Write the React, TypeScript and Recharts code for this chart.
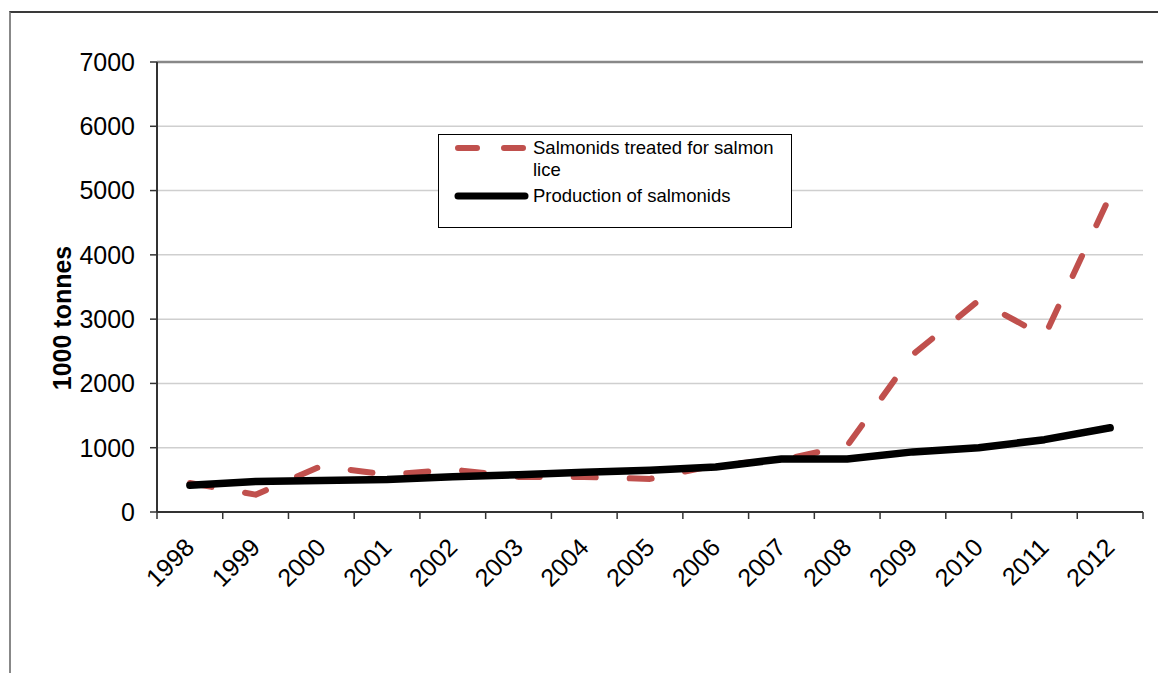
import React from 'react';
import { LineChart, Line, XAxis, YAxis, CartesianGrid, Legend, ReferenceLine } from 'recharts';

const years = ['1998', '1999', '2000', '2001', '2002', '2003', '2004', '2005', '2006', '2007', '2008', '2009', '2010', '2011', '2012'];
const treatedForLice = [450, 270, 715, 580, 660, 545, 545, 515, 730, 810, 1030, 2450, 3290, 2730, 4920];
const productionOfSalmonids = [415, 475, 490, 505, 550, 580, 620, 650, 700, 825, 825, 935, 1000, 1125, 1310];
const yTicks = [0, 1000, 2000, 3000, 4000, 5000, 6000, 7000];
const seriesNames = {
  treated: 'Salmonids treated for salmon lice',
  production: 'Production of salmonids',
};
const legendOrder = ['treated', 'production'];
const yAxisTitle = '1000 tonnes';

const data = years.map((year, i) => ({
  year,
  treated: treatedForLice[i],
  production: productionOfSalmonids[i],
}));

const FONT = '"Liberation Sans", Arial, Helvetica, sans-serif';
const RED = '#C0504D';
const BLACK = '#000000';

const legendStyles: Record<string, { stroke: string; width: number; dash?: string }> = {
  treated: { stroke: RED, width: 6, dash: '19 27' },
  production: { stroke: BLACK, width: 7 },
};

const XTick = (props: any) => {
  const { x, y, payload, index, width } = props;
  const half = payload && typeof payload.offset === 'number' && payload.offset > 0
    ? payload.offset
    : (width || 986) / years.length / 2;
  const isLast = index === years.length - 1;
  const tx = x + 6;
  const ty = y + 37;
  return (
    <g>
      <line x1={x - half} y1={y} x2={x - half} y2={y + 7} stroke="#333" strokeWidth={1.5} />
      {isLast && <line x1={x + half} y1={y} x2={x + half} y2={y + 7} stroke="#333" strokeWidth={1.5} />}
      <text
        x={tx}
        y={ty}
        textAnchor="end"
        transform={`rotate(-45 ${tx} ${ty})`}
        fontSize={25}
        fontFamily={FONT}
        fill="#000"
      >
        {payload.value}
      </text>
    </g>
  );
};

const YTitle = (props: any) => {
  const vb = props.viewBox || { x: 0, y: 62, width: 157, height: 450 };
  const tx = vb.x + 71;
  const ty = vb.y + vb.height / 2 + 31;
  return (
    <text
      x={tx}
      y={ty}
      textAnchor="middle"
      transform={`rotate(-90 ${tx} ${ty})`}
      fontSize={25}
      fontWeight="bold"
      fontFamily={FONT}
      fill="#000"
    >
      {yAxisTitle}
    </text>
  );
};

const LegendContent = (props: any) => {
  const payload = [...(props.payload || [])].sort(
    (a: any, b: any) => legendOrder.indexOf(a.dataKey) - legendOrder.indexOf(b.dataKey)
  );
  return (
    <div
      style={{
        boxSizing: 'border-box',
        width: 354,
        height: 94,
        border: '1px solid #000',
        background: '#fff',
        paddingTop: 2,
        fontFamily: FONT,
        fontSize: 18.5,
        lineHeight: '22px',
        color: '#000',
        textAlign: 'left',
      }}
    >
      {payload.map((p: any) => {
        const st = legendStyles[p.dataKey] || { stroke: p.color, width: 6 };
        return (
          <div key={p.dataKey} style={{ display: 'flex', alignItems: 'flex-start', marginBottom: 4 }}>
            <svg width={94} height={22} style={{ flex: 'none', display: 'block' }}>
              <line
                x1={19}
                y1={11}
                x2={86}
                y2={11}
                stroke={st.stroke}
                strokeWidth={st.width}
                strokeDasharray={st.dash}
                strokeLinecap="round"
              />
            </svg>
            <div style={{ width: 254 }}>{p.value}</div>
          </div>
        );
      })}
    </div>
  );
};

export default function App() {
  return (
    <div
      style={{
        position: 'absolute',
        left: 0,
        top: 0,
        width: 1158,
        height: 673,
        overflow: 'hidden',
        background: '#fff',
      }}
    >
      <div
        style={{
          position: 'absolute',
          left: 9,
          top: 11,
          width: 1300,
          height: 800,
          borderTop: '2px solid #3a3a3a',
          borderLeft: '2px solid #888',
        }}
      />
      <div style={{ position: 'absolute', left: 0, top: 0 }}>
        <LineChart
          width={1158}
          height={673}
          data={data}
          margin={{ top: 62, right: 15, bottom: 0, left: 0 }}
        >
          <CartesianGrid vertical={false} stroke="#cfcfcf" strokeWidth={1.5} yAxisId="left" />
          <XAxis
            dataKey="year"
            scale="band"
            interval={0}
            height={161}
            tickLine={false}
            tickSize={0}
            tickMargin={0}
            axisLine={{ stroke: '#333', strokeWidth: 2 }}
            tick={<XTick />}
          />
          <YAxis
            yAxisId="left"
            width={157}
            domain={[0, 7000]}
            ticks={yTicks}
            interval={0}
            tickSize={7}
            tickMargin={15}
            tickLine={{ stroke: '#333', strokeWidth: 1.5 }}
            axisLine={{ stroke: '#333', strokeWidth: 2 }}
            tick={{ fontSize: 25, fontFamily: FONT, fill: '#000' }}
            label={(p: any) => <YTitle {...p} />}
          />
          <YAxis
            yAxisId="right"
            orientation="right"
            width={0}
            domain={[0, 7000]}
            tick={false}
            tickLine={false}
            axisLine={{ stroke: '#888', strokeWidth: 2.5 }}
          />
          <ReferenceLine yAxisId="left" y={7000} stroke="#888" strokeWidth={2.5} />
          <Legend
            layout="horizontal"
            verticalAlign="middle"
            align="center"
            content={<LegendContent />}
            wrapperStyle={{ position: 'absolute', left: 438, top: 134, width: 354, height: 94 }}
          />
          <Line
            yAxisId="left"
            type="linear"
            dataKey="treated"
            name={seriesNames.treated}
            stroke={RED}
            strokeWidth={6}
            strokeDasharray="22 34"
            strokeLinecap="round"
            strokeLinejoin="round"
            dot={false}
            activeDot={false}
            isAnimationActive={false}
          />
          <Line
            yAxisId="left"
            type="linear"
            dataKey="production"
            name={seriesNames.production}
            stroke={BLACK}
            strokeWidth={7.5}
            strokeLinecap="round"
            strokeLinejoin="round"
            dot={false}
            activeDot={false}
            isAnimationActive={false}
          />
        </LineChart>
      </div>
    </div>
  );
}
